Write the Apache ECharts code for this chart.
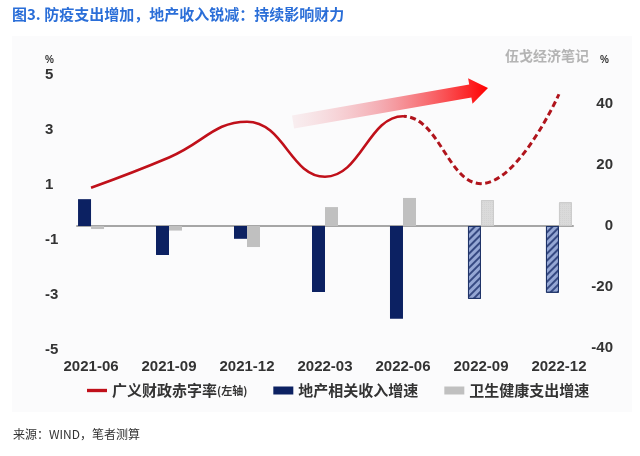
<!DOCTYPE html>
<html>
<head>
<meta charset="utf-8">
<script src="https://cdn.jsdelivr.net/npm/echarts@6/dist/echarts.min.js"></script>
<style>
html,body{margin:0;padding:0;background:#fff;}
#c{width:640px;height:456px;}
</style>
</head>
<body>
<div id="c"></div>
<script>
// ---- data ----
const categories = ['2021-06','2021-09','2021-12','2022-03','2022-06','2022-09','2022-12'];
const deficitRate = [0.9, 2.0, 3.3, 1.3, 3.5, 1.05, 4.3];          // 广义财政赤字率 (左轴, %)
const propertyRevenue = [8.8, -9.5, -4.2, -21.6, -30.4, -23.9, -21.9]; // 地产相关收入增速 (右轴, %)
const healthSpending = [-1.0, -1.5, -6.9, 6.2, 9.2, 8.5, 7.8];        // 卫生健康支出增速 (右轴, %)
const forecastLineStart = 4;   // dashed line from this index
const forecastBarStart = 5;    // hatched bars from this index
const leftAxis = {min: -5, max: 5, interval: 2};
const rightAxis = {min: -40, max: 40, interval: 20};

const names = ['广义财政赤字率', '地产相关收入增速', '卫生健康支出增速'];
const RED = '#c0101a';
const NAVY = '#0c2162';
const GRAY = '#c0c0c0';

const idx = categories.map((_, i) => i);
const lineData = idx.map(i => [i, deficitRate[i]]);
const splitFrac = forecastLineStart / (categories.length - 1);

const propData = idx.map(i => {
  const d = {value: [i, propertyRevenue[i]]};
  if (i >= forecastBarStart) {
    d.itemStyle = {
      color: '#95a7d4', borderColor: '#1f3468', borderWidth: 1,
      decal: {symbol: 'rect', symbolSize: 1, dashArrayX: [1, 0], dashArrayY: [1.3, 2.3],
              rotation: -Math.PI / 4, color: 'rgba(30,50,110,0.8)'}
    };
  }
  return d;
});
const healthData = idx.map(i => {
  const d = {value: [i, healthSpending[i]]};
  if (i >= forecastBarStart) {
    d.itemStyle = {
      color: '#dadada', borderColor: '#cccccc', borderWidth: 1,
      decal: {symbol: 'rect', symbolSize: 0.7, dashArrayX: [1, 1], dashArrayY: [1, 1], color: '#c6c6c6'}
    };
  }
  return d;
});

const labelFont = {fontFamily: 'Liberation Sans, Arial, sans-serif', fontSize: 15, fontWeight: 'bold', color: '#333'};
const xMin = -0.18, xMax = categories.length - 1 + 0.18;

const chart = echarts.init(document.getElementById('c'), null, {renderer: 'canvas'});
chart.setOption({
  animation: false,
  backgroundColor: '#fff',
  graphic: [
    {type: 'rect', z: -10, shape: {x: 12, y: 36, width: 620, height: 376}, style: {fill: '#fbfbfc'}},
    {type: 'text', left: 12, top: 7, style: {text: '图3. 防疫支出增加，地产收入锐减：持续影响财力',
      fill: '#2a6ed8', font: 'bold 15px "Noto Sans CJK SC", sans-serif'}},
    {type: 'text', left: 505, top: 49, style: {text: '伍戈经济笔记', fill: '#b4b4b4',
      font: 'bold 14px "Noto Sans CJK SC", sans-serif'}},
    {type: 'text', left: 45, top: 55, style: {text: '%', fill: '#333', font: 'bold 10px "Liberation Sans", sans-serif'}},
    {type: 'text', left: 600, top: 55, style: {text: '%', fill: '#333', font: 'bold 10px "Liberation Sans", sans-serif'}},
    {type: 'text', left: 13, top: 428, style: {text: '来源：WIND，笔者测算', fill: '#333',
      font: '12px "Noto Sans CJK SC", sans-serif'}},
    {type: 'polygon', z: 5,
      shape: {points: [[292, 115.6], [469.2, 84.6], [468.1, 78.2], [488, 88], [472.5, 103.8], [471.4, 97.4], [294.1, 128.4]]},
      style: {fill: {type: 'linear', x: 0, y: 0, x2: 1, y2: 0, colorStops: [
        {offset: 0, color: 'rgba(240,200,205,0.25)'},
        {offset: 0.45, color: 'rgba(240,120,130,0.6)'},
        {offset: 1, color: '#ff0000'}]}}}
  ],
  legend: {
    left: 82, top: 378, itemGap: 26, itemWidth: 20, itemHeight: 8,
    textStyle: {fontFamily: '"Noto Sans CJK SC", sans-serif', fontSize: 15, fontWeight: 'bold', color: '#333',
      rich: {a: {fontSize: 15, fontWeight: 'bold', color: '#333', fontFamily: '"Noto Sans CJK SC", sans-serif'},
             b: {fontSize: 11, fontWeight: 'bold', color: '#333', fontFamily: '"Noto Sans CJK SC", sans-serif'}}},
    formatter: n => n === names[0] ? '{a|' + n + '}{b|(左轴)}' : n,
    data: [
      {name: names[0], icon: 'path://M0,0 L18,0 L18,3 L0,3 Z', itemStyle: {color: RED}, lineStyle: {color: RED, width: 0}},
      {name: names[1], icon: 'rect', itemStyle: {color: NAVY}},
      {name: names[2], icon: 'rect', itemStyle: {color: GRAY}}
    ]
  },
  grid: [
    {left: 77, right: 67, top: 75, bottom: 106},
    {left: 77, right: 67, top: 104, bottom: 108}
  ],
  xAxis: [
    {type: 'value', gridIndex: 0, min: xMin, max: xMax,
     axisLine: {show: false}, axisTick: {show: false}, splitLine: {show: false},
     axisLabel: Object.assign({customValues: idx, margin: 9, formatter: v => categories[Math.round(v)] || ''}, labelFont)},
    {type: 'value', gridIndex: 1, min: xMin, max: xMax,
     axisLine: {show: true, onZero: true, lineStyle: {color: '#a6a6a6', width: 2}},
     axisTick: {show: false}, splitLine: {show: false}, axisLabel: {show: false}}
  ],
  yAxis: [
    {type: 'value', gridIndex: 0, position: 'left', min: leftAxis.min, max: leftAxis.max, interval: leftAxis.interval,
     axisLine: {show: false}, axisTick: {show: false}, splitLine: {show: false},
     axisLabel: Object.assign({align: 'left', margin: 32}, labelFont)},
    {type: 'value', gridIndex: 1, position: 'right', min: rightAxis.min, max: rightAxis.max, interval: rightAxis.interval,
     axisLine: {show: false}, axisTick: {show: false}, splitLine: {show: false},
     axisLabel: Object.assign({align: 'right', margin: 40}, labelFont)}
  ],
  series: [
    {name: names[1], type: 'bar', xAxisIndex: 1, yAxisIndex: 1, barWidth: 13, barGap: '0%',
     itemStyle: {color: NAVY}, data: propData, z: 2},
    {name: names[2], type: 'bar', xAxisIndex: 1, yAxisIndex: 1, barWidth: 13, barGap: '0%',
     itemStyle: {color: GRAY}, data: healthData, z: 2},
    {name: names[0], type: 'line', xAxisIndex: 0, yAxisIndex: 0, smooth: 0.45, symbol: 'none', z: 4,
     itemStyle: {color: RED},
     lineStyle: {width: 2.6, color: {type: 'linear', x: 0, y: 0, x2: 1, y2: 0, colorStops: [
       {offset: 0, color: RED}, {offset: splitFrac, color: RED},
       {offset: splitFrac, color: 'rgba(0,0,0,0)'}, {offset: 1, color: 'rgba(0,0,0,0)'}]}},
     data: lineData},
    {name: names[0] + '(预测)', type: 'line', xAxisIndex: 0, yAxisIndex: 0, smooth: 0.45, symbol: 'none', z: 4,
     lineStyle: {width: 3, type: [6, 3.5], color: {type: 'linear', x: 0, y: 0, x2: 1, y2: 0, colorStops: [
       {offset: 0, color: 'rgba(0,0,0,0)'}, {offset: splitFrac, color: 'rgba(0,0,0,0)'},
       {offset: splitFrac, color: '#b0141c'}, {offset: 1, color: '#b0141c'}]}},
     data: lineData}
  ]
});
</script>
</body>
</html>
